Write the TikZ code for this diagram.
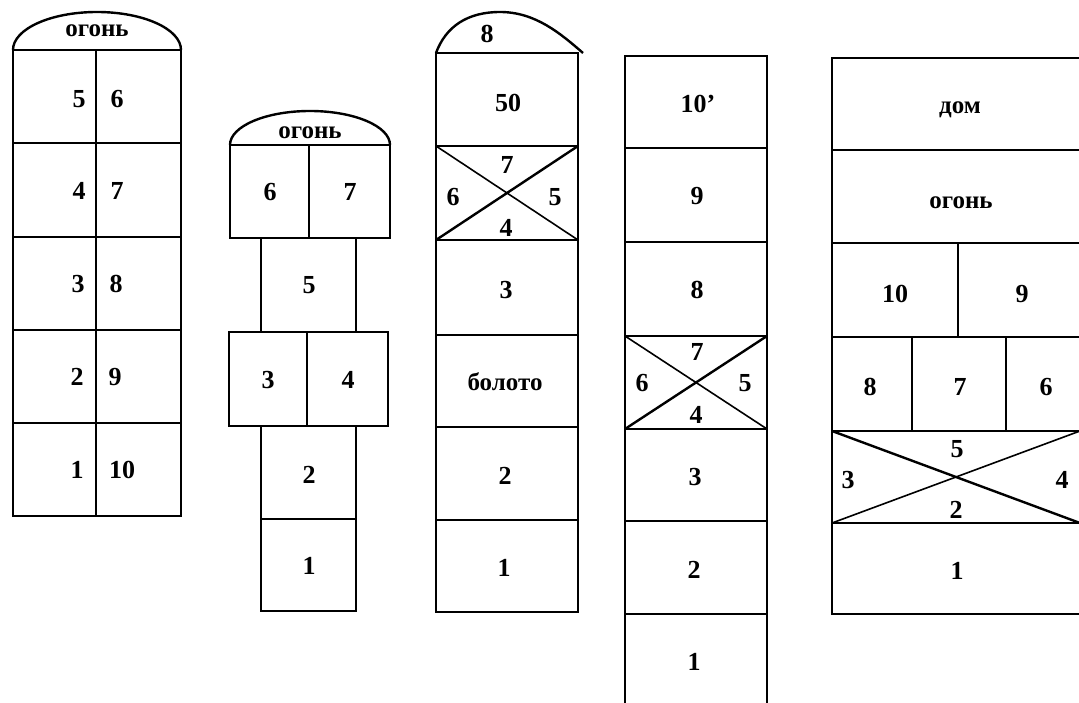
\documentclass[tikz,border=0pt]{standalone}
\usepackage{fontspec}
\setmainfont{Liberation Serif}
\begin{document}
\begin{tikzpicture}[x=1pt, y=-1pt, line width=1.6pt,
  num/.style={font=\fontsize{26}{26}\selectfont\bfseries},
  word/.style={font=\fontsize{25}{25}\selectfont\bfseries},
  roof/.style={line width=2.4pt}]
\useasboundingbox (0,0) rectangle (1079,703);
\clip (0,0) rectangle (1079,703);

\draw (13,50) rectangle (181,516);
\draw (96,50) -- (96,516);
\draw (13,143) -- (181,143);
\draw (13,237) -- (181,237);
\draw (13,330) -- (181,330);
\draw (13,423) -- (181,423);
\draw[roof] (13,50) arc[start angle=180, end angle=0, x radius=84pt, y radius=38pt];
\node[word] (a0) at (97,31) {огонь};
\node[num] (a5) at (79,99) {5};
\node[num] (a6) at (117,99) {6};
\node[num] (a4) at (79,191) {4};
\node[num] (a7) at (117,191) {7};
\node[num] (a3) at (78,284) {3};
\node[num] (a8) at (116,284) {8};
\node[num] (a2) at (77,377) {2};
\node[num] (a9) at (115,377) {9};
\node[num] (a1) at (77,470) {1};
\node[num] (a10) at (122,470) {10};

\draw (230,145) rectangle (390,238);
\draw (309,145) -- (309,238);
\draw (261,238) rectangle (356,332);
\draw (229,332) rectangle (388,426);
\draw (307,332) -- (307,426);
\draw (261,426) rectangle (356,519);
\draw (261,519) rectangle (356,611);
\draw[roof] (230,145) arc[start angle=180, end angle=0, x radius=80pt, y radius=34pt];
\node[word] (b0) at (310,133) {огонь};
\node[num] (b6) at (270,192) {6};
\node[num] (b7) at (350,192) {7};
\node[num] (b5) at (309,285) {5};
\node[num] (b3) at (268,380) {3};
\node[num] (b4) at (348,380) {4};
\node[num] (b2) at (309,475) {2};
\node[num] (b1) at (309,566) {1};

\draw (436,53) rectangle (578,612);
\draw (436,146) -- (578,146);
\draw (436,240) -- (578,240);
\draw (436,335) -- (578,335);
\draw (436,427) -- (578,427);
\draw (436,520) -- (578,520);
\draw (436,146) -- (578,240);
\draw[roof] (436,240) -- (578,146);
\draw[roof] (436,53) .. controls (446,26) and (468,12) .. (500,12)
  .. controls (535,12) and (560,33) .. (583,53);
\node[num] (c8) at (487,34) {8};
\node[num] (c50) at (508,103) {50};
\node[num] (c7) at (507,165) {7};
\node[num] (c6) at (453,197) {6};
\node[num] (c5) at (555,197) {5};
\node[num] (c4) at (506,228) {4};
\node[num] (c3) at (506,290) {3};
\node[word] (c0) at (505,382) {болото};
\node[num] (c2) at (505,476) {2};
\node[num] (c1) at (504,568) {1};

\draw (625,710) -- (625,56) -- (767,56) -- (767,710);
\draw (625,148) -- (767,148);
\draw (625,242) -- (767,242);
\draw (625,336) -- (767,336);
\draw (625,429) -- (767,429);
\draw (625,521) -- (767,521);
\draw (625,614) -- (767,614);
\draw (625,336) -- (767,429);
\draw[roof] (625,429) -- (767,336);
\node[num] (d10) at (698,104) {10'};
\node[num] (d9) at (697,196) {9};
\node[num] (d8) at (697,290) {8};
\node[num] (d7) at (697,352) {7};
\node[num] (d6) at (642,383) {6};
\node[num] (d5) at (745,383) {5};
\node[num] (d4) at (696,415) {4};
\node[num] (d3) at (695,477) {3};
\node[num] (d2) at (694,570) {2};
\node[num] (d1) at (694,662) {1};

\draw (832,58) rectangle (1085,614);
\draw (832,150) -- (1085,150);
\draw (832,243) -- (1085,243);
\draw (832,337) -- (1085,337);
\draw (832,431) -- (1085,431);
\draw (832,523) -- (1085,523);
\draw (958,243) -- (958,337);
\draw (912,337) -- (912,431);
\draw (1006,337) -- (1006,431);
\draw[roof] (832,431) -- (1080,523);
\draw (832,523) -- (1080,431);
\node[word] (e0) at (960,110) {дом};
\node[word] (e1) at (961,203) {огонь};
\node[num] (e10) at (895,294) {10};
\node[num] (e9) at (1022,294) {9};
\node[num] (e8) at (870,387) {8};
\node[num] (e7) at (960,387) {7};
\node[num] (e6) at (1046,387) {6};
\node[num] (e5) at (957,449) {5};
\node[num] (e3) at (848,480) {3};
\node[num] (e4) at (1062,480) {4};
\node[num] (e2) at (956,510) {2};
\node[num] (e11) at (957,571) {1};
\end{tikzpicture}
\end{document}
